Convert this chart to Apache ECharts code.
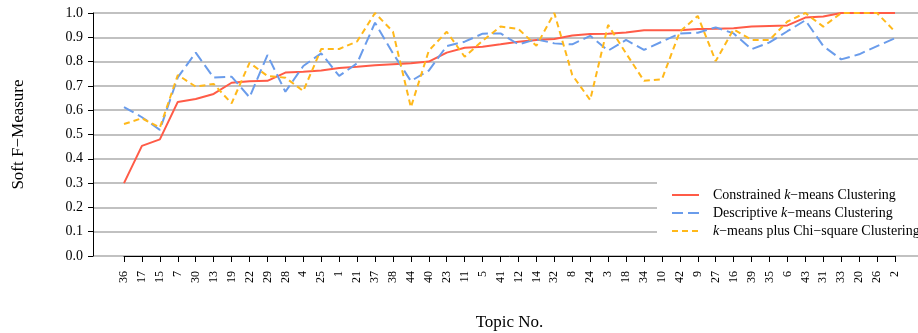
<!DOCTYPE html>
<html>
<head>
<meta charset="utf-8">
<script src="https://cdn.jsdelivr.net/npm/echarts@6/dist/echarts.min.js"></script>
<style>html,body{margin:0;padding:0;background:#fff}#c{width:918px;height:333px}</style>
</head>
<body>
<div id="c"></div>
<script>
const categories = ['36','17','15','7','30','13','19','22','29','28','4','25','1','21','37','38','44','40','23','11','5','41','12','14','32','8','24','3','18','34','10','42','9','27','16','39','35','6','43','31','33','20','26','2'];
const constrained = [0.30,0.453,0.48,0.634,0.646,0.667,0.713,0.719,0.721,0.755,0.758,0.763,0.774,0.779,0.785,0.789,0.793,0.80,0.837,0.857,0.861,0.871,0.882,0.889,0.893,0.907,0.914,0.915,0.92,0.929,0.929,0.929,0.934,0.935,0.937,0.944,0.947,0.949,0.981,0.986,1.0,1.0,1.0,1.0];
const descriptive = [0.613,0.571,0.519,0.735,0.837,0.734,0.738,0.653,0.827,0.676,0.782,0.834,0.741,0.793,0.96,0.834,0.72,0.763,0.864,0.882,0.915,0.916,0.871,0.892,0.875,0.871,0.906,0.845,0.889,0.848,0.882,0.916,0.919,0.941,0.916,0.851,0.879,0.925,0.97,0.864,0.809,0.83,0.864,0.896];
const chiSquare = [0.543,0.567,0.528,0.745,0.697,0.708,0.628,0.795,0.741,0.734,0.679,0.852,0.852,0.883,1.0,0.923,0.612,0.845,0.923,0.82,0.886,0.944,0.934,0.865,1.0,0.745,0.642,0.951,0.834,0.721,0.727,0.923,0.988,0.802,0.933,0.889,0.889,0.965,1.0,0.944,1.0,1.0,1.0,0.923];
const seriesNames = ['Constrained k\u2212means Clustering','Descriptive k\u2212means Clustering','k\u2212means plus Chi\u2212square Clustering'];
const yTicks = [0,0.1,0.2,0.3,0.4,0.5,0.6,0.7,0.8,0.9,1.0];

const FONT = "'Liberation Serif','Times New Roman',serif";
const chart = echarts.init(document.getElementById('c'), null, {renderer:'canvas'});

function legendFmt(name){
  const parts = name.split('k');
  if (parts.length < 2) return '{n|' + name + '}';
  return (parts[0] ? '{n|' + parts[0] + '}' : '') + '{i|k}{n|' + parts.slice(1).join('k') + '}';
}

chart.setOption({
  animation:false,
  backgroundColor:'#fff',
  textStyle:{fontFamily:FONT},
  grid:[
    {left:93, right:0, top:13, bottom:77, containLabel:false, outerBoundsMode:'none'},
    {left:124, right:23, top:13, bottom:77, containLabel:false, outerBoundsMode:'none'}
  ],
  xAxis:[
    {gridIndex:0, type:'value', min:0, max:1, show:true,
     axisLine:{show:false}, axisTick:{show:false}, axisLabel:{show:false}, splitLine:{show:false}},
    {gridIndex:1, type:'category', data:categories, boundaryGap:false,
     axisLine:{show:true, onZero:false, lineStyle:{color:'#000', width:1}},
     axisTick:{show:true, alignWithLabel:true, length:6, lineStyle:{color:'#000'}},
     axisLabel:{rotate:90, interval:0, margin:15, color:'#000', fontFamily:FONT, fontSize:12},
     name:'Topic No.', nameLocation:'middle', nameGap:58,
     nameTextStyle:{color:'#000', fontFamily:FONT, fontSize:17}}
  ],
  yAxis:[
    {gridIndex:0, type:'value', min:0, max:1, interval:0.1,
     axisLine:{show:true, lineStyle:{color:'#000', width:1}},
     axisTick:{show:true, length:5, lineStyle:{color:'#000'}},
     axisLabel:{color:'#000', fontFamily:FONT, fontSize:14, margin:10,
       formatter:function(v){return v.toFixed(1);}},
     splitLine:{show:true, lineStyle:{color:'#adadad', width:1.5}},
     name:'Soft F\u2212Measure', nameLocation:'middle', nameGap:66,
     nameTextStyle:{color:'#000', fontFamily:FONT, fontSize:17}},
    {gridIndex:1, type:'value', min:0, max:1, show:false, splitLine:{show:false}}
  ],
  legend:{
    orient:'vertical', left:657, top:178, right:0,
    backgroundColor:'#fff', padding:[10,60,8,14],
    itemWidth:27, itemHeight:14, itemGap:4,
    data:seriesNames,
    formatter:legendFmt,
    itemStyle:{opacity:0, borderWidth:0},
    textStyle:{color:'#000', fontFamily:FONT, fontSize:14, padding:[0,0,0,9],
      rich:{n:{fontFamily:FONT, fontSize:14, color:'#000'},
            i:{fontFamily:FONT, fontSize:14, color:'#000', fontStyle:'italic'}}}
  },
  series:[
    {name:seriesNames[0], type:'line', xAxisIndex:1, yAxisIndex:1, data:constrained,
     symbol:'none', lineStyle:{color:'#FF5B47', width:2}, itemStyle:{color:'#FF5B47'}},
    {name:seriesNames[1], type:'line', xAxisIndex:1, yAxisIndex:1, data:descriptive,
     symbol:'none', lineStyle:{color:'#6A9CEB', width:2, type:[11,5]}, itemStyle:{color:'#6A9CEB'}},
    {name:seriesNames[2], type:'line', xAxisIndex:1, yAxisIndex:1, data:chiSquare,
     symbol:'none', lineStyle:{color:'#FFB81A', width:2, type:[6,4]}, itemStyle:{color:'#FFB81A'}}
  ]
});
</script>
</body>
</html>
